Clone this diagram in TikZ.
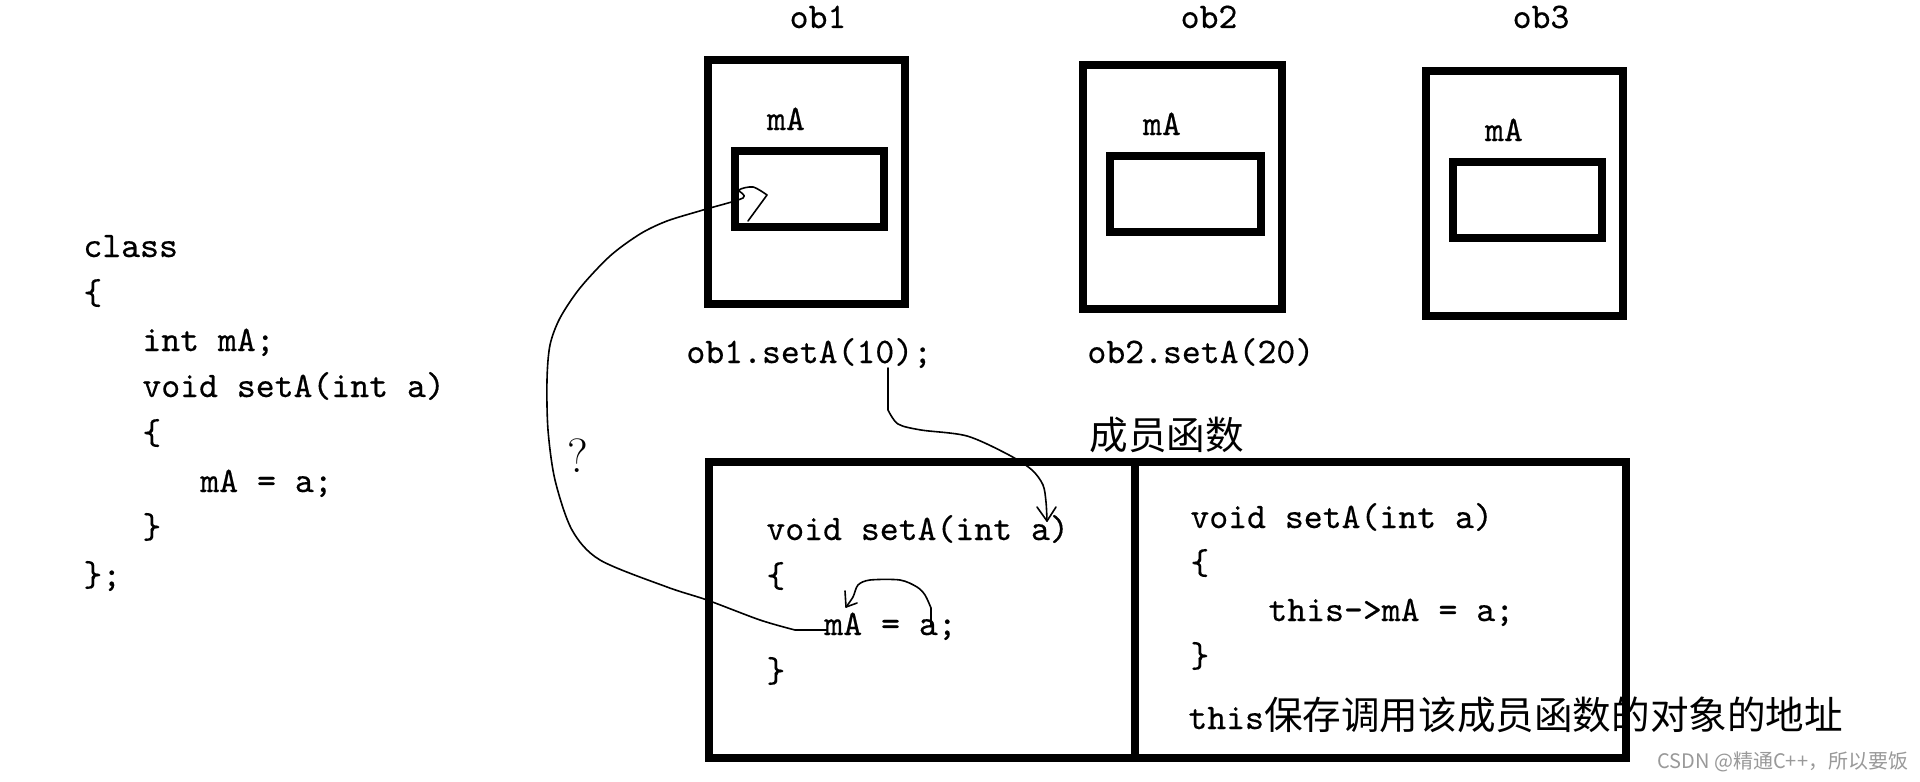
\documentclass[tikz,border=0pt]{standalone}
\usepackage{fontspec}
\newfontfamily\cjk{Noto Sans CJK SC}
\newfontfamily\codett[FakeBold=0.4]{lmmono10-regular.otf}
\begin{document}
\begin{tikzpicture}[x=0.5pt,y=-0.5pt,
  code/.style={font=\fontsize{18pt}{18pt}\selectfont\codett, inner sep=0pt, anchor=base west},
  lab/.style={font=\fontsize{18pt}{18pt}\selectfont\codett, inner sep=0pt, anchor=base},
  cjktext/.style={font=\fontsize{19.3pt}{19.3pt}\selectfont\cjk, inner sep=0pt, anchor=base west},
  boxline/.style={line width=4pt},
  hand/.style={line width=0.8pt, line cap=round, line join=round}]
\fill[white] (0,0) rectangle (1920,781);
\useasboundingbox (0,0) rectangle (1920,781);

% class definition
\node[code] (c1) at (83,257) {class};
\node[code] (c2) at (83,304) {\{};
\node[code] (c3) at (142,351) {int mA;};
\node[code] (c4) at (142,397) {void setA(int a)};
\node[code] (c5) at (142,444) {\{};
\node[code] (c6) at (200,492) {mA = a;};
\node[code] (c7) at (142,538) {\}};
\node[code] (c8) at (83,586) {\};};

% objects
\node[lab] (l1) at (818,28) {ob1};
\node[lab] (l2) at (1209,28) {ob2};
\node[lab] (l3) at (1541,28) {ob3};
\draw[boxline] (708,60) rectangle (905,304);
\draw[boxline] (735,151) rectangle (884,227);
\draw[boxline] (1083,65) rectangle (1282,309);
\draw[boxline] (1110,156) rectangle (1261,232);
\draw[boxline] (1426,71) rectangle (1623,316);
\draw[boxline] (1453,162) rectangle (1602,238);
\node[lab] (m1) at (786,130) {mA};
\node[lab] (m2) at (1162,135) {mA};
\node[lab] (m3) at (1504,141) {mA};

\node[code] (call1) at (686,363) {ob1.setA(10);};
\node[code] (call2) at (1087,363) {ob2.setA(20)};

% member functions
\node[cjktext] (title) at (1089,449) {成员函数};
\draw[boxline] (709,462) rectangle (1626,758);
\draw[boxline] (1135,462) -- (1135,758);

\node[code] (f1) at (766,540) {void setA(int a)};
\node[code] (f2) at (766,587) {\{};
\node[code] (f3) at (824,635) {mA = a;};
\node[code] (f4) at (766,682) {\}};

\node[code] (g1) at (1190,528) {void setA(int a)};
\node[code] (g2) at (1190,574) {\{};
\node[code] (g3) at (1268,621) {this->mA = a;};
\node[code] (g4) at (1190,667) {\}};
\node[code] (note) at (1188,729) {this{\fontsize{19.3pt}{19.3pt}\selectfont\cjk 保存调用该成员函数的对象的地址}};

% question mark
\node[font=\fontsize{24pt}{24pt}\selectfont\rmfamily, inner sep=0pt] (q) at (578,456) {?};

% connectors
\coordinate (s10) at (888,368);
\coordinate (ta) at (1047,521);
\draw[hand] (s10) -- (888,410) plot[smooth] coordinates {(888,410) (898,424) (921,430) (967,436) (1009,455) (1032,470) (1043,485) (1046,502) (ta)};
\draw[hand] (1037,507) -- (ta) -- (1056,507);

\coordinate (smA) at (827,630);
\coordinate (tmA) at (767,195);
\draw[hand] (smA) -- (795,630) plot[smooth] coordinates {(795,630) (760,620) (707,600) (667,587) (600,560) (572,530) (555,480) (548,430) (547,380) (550,345) (560,318) (580,288) (610,256) (640,234) (667,221) (703,210) (743,198) (739,190) (753,187) (tmA)} -- (748,221);

\coordinate (sa) at (931,625);
\coordinate (tA) at (846,607);
\draw[hand] (sa) -- (931,608) plot[smooth] coordinates {(931,608) (925,595) (917,587) (900,580) (870,580) (858,585) (853,597) (tA)};
\draw[hand] (845,591) -- (tA) -- (857,603);

% watermark
\node[font=\fontsize{10pt}{10pt}\selectfont\cjk, text=black!40, inner sep=0pt, anchor=west] (wm) at (1657,762) {CSDN @精通C++，所以要饭};
\end{tikzpicture}
\end{document}
